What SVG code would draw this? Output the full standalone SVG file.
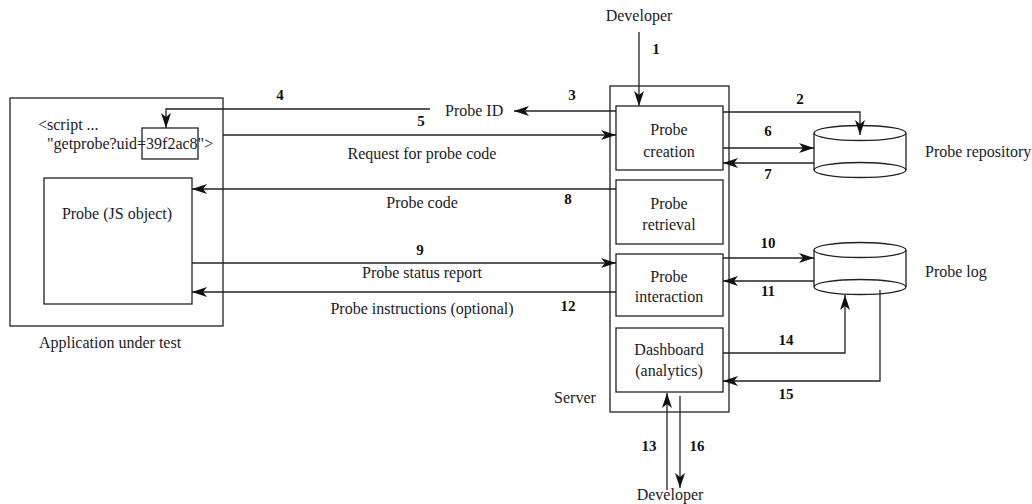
<svg xmlns="http://www.w3.org/2000/svg" width="1032" height="504" viewBox="0 0 1032 504">
<defs>
<marker id="ah" markerWidth="16" markerHeight="12" refX="15" refY="6" orient="auto" markerUnits="userSpaceOnUse">
<path d="M0,1 L15,6 L0,11 L4,6 z" fill="#111"/>
</marker>
<style>
.t{font-family:"Liberation Serif","Times New Roman",serif;font-size:16px;fill:#1a1a2a}
.c{text-anchor:middle}
.n{font-family:"Liberation Serif","Times New Roman",serif;font-size:15px;font-weight:bold;fill:#111;text-anchor:middle}
.b{fill:#fff;stroke:#222;stroke-width:1.3}
.l{fill:none;stroke:#222;stroke-width:1.3}
.a{fill:none;stroke:#222;stroke-width:1.3;marker-end:url(#ah)}
</style>
</defs>
<rect width="1032" height="504" fill="#fff"/>
<g id="app">
<rect class="b" x="10" y="98" width="213" height="228"/>
<text class="t c" x="110" y="348">Application under test</text>
<text class="t" x="38" y="130">&lt;script ...</text>
</g>
<g id="uid">
<rect class="l" x="142" y="128" width="56" height="31"/>
<text class="t" x="47" y="149">"getprobe?uid=39f2ac8"&gt;</text>
</g>
<g id="probejs">
<rect class="b" x="44" y="178" width="148" height="126"/>
<text class="t c" x="117" y="219">Probe (JS object)</text>
</g>
<g id="server">
<rect class="l" x="610" y="86" width="119" height="326"/>
<text class="t c" x="575" y="403">Server</text>
</g>
<g id="creation">
<rect class="b" x="616" y="106" width="107" height="64"/>
<text class="t c" x="669" y="135">Probe</text>
<text class="t c" x="669" y="157">creation</text>
</g>
<g id="retrieval">
<rect class="b" x="616" y="180" width="107" height="64"/>
<text class="t c" x="669" y="209">Probe</text>
<text class="t c" x="669" y="230">retrieval</text>
</g>
<g id="interaction">
<rect class="b" x="616" y="254" width="107" height="62"/>
<text class="t c" x="669" y="282">Probe</text>
<text class="t c" x="669" y="302">interaction</text>
</g>
<g id="dashboard">
<rect class="b" x="616" y="328" width="107" height="64"/>
<text class="t c" x="669" y="355">Dashboard</text>
<text class="t c" x="669" y="376">(analytics)</text>
</g>
<g id="repository">
<path class="b" d="M814,133 L814,170 A46,7.5 0 0 0 906,170 L906,133"/>
<ellipse class="l" cx="860" cy="133" rx="46" ry="7.5"/>
<path class="l" d="M814,170 A46,7.5 0 0 1 906,170"/>
<text class="t" x="925" y="157">Probe repository</text>
</g>
<g id="log">
<path class="b" d="M814,250 L814,287 A46,7.5 0 0 0 906,287 L906,250"/>
<ellipse class="l" cx="860" cy="250" rx="46" ry="7.5"/>
<path class="l" d="M814,287 A46,7.5 0 0 1 906,287"/>
<text class="t" x="925" y="277">Probe log</text>
</g>
<g id="devtop"><text class="t c" x="639" y="21">Developer</text></g>
<g id="devbottom"><text class="t c" x="670" y="500">Developer</text></g>
<g id="probeid"><text class="t" x="445" y="116">Probe ID</text></g>
<g id="connectors">
<path class="a" d="M430,109 L166,109 L166,128"/>
<text class="n" x="280" y="100">4</text>
<path class="a" d="M639,32 L639,106"/>
<text class="n" x="656" y="54">1</text>
<path class="a" d="M723,112 L860,112 L860,135"/>
<text class="n" x="800" y="104">2</text>
<path class="a" d="M616,111 L514,111"/>
<text class="n" x="572" y="100">3</text>
<path class="a" d="M223,135 L616,135"/>
<text class="n" x="421" y="126">5</text>
<text class="t c" x="422" y="159">Request for probe code</text>
<path class="a" d="M723,148 L814,148"/>
<text class="n" x="768" y="136">6</text>
<path class="a" d="M814,163 L723,163"/>
<text class="n" x="768" y="179">7</text>
<path class="a" d="M616,189 L192,189"/>
<text class="n" x="568" y="204">8</text>
<text class="t c" x="422" y="208">Probe code</text>
<path class="a" d="M192,263 L616,263"/>
<text class="n" x="420" y="255">9</text>
<text class="t c" x="422" y="278">Probe status report</text>
<path class="a" d="M723,258 L814,258"/>
<text class="n" x="768" y="248">10</text>
<path class="a" d="M814,281 L723,281"/>
<text class="n" x="768" y="296">11</text>
<path class="a" d="M616,292 L192,292"/>
<text class="t c" x="422" y="314">Probe instructions (optional)</text>
<text class="n" x="568" y="311">12</text>
<path class="a" d="M667,490 L667,393"/>
<text class="n" x="649" y="451">13</text>
<path class="a" d="M723,353 L845,353 L845,295"/>
<text class="n" x="786" y="345">14</text>
<path class="a" d="M880,290 L880,381 L723,381"/>
<text class="n" x="786" y="399">15</text>
<path class="a" d="M680,396 L680,488"/>
<text class="n" x="697" y="451">16</text>
</g>
</svg>
